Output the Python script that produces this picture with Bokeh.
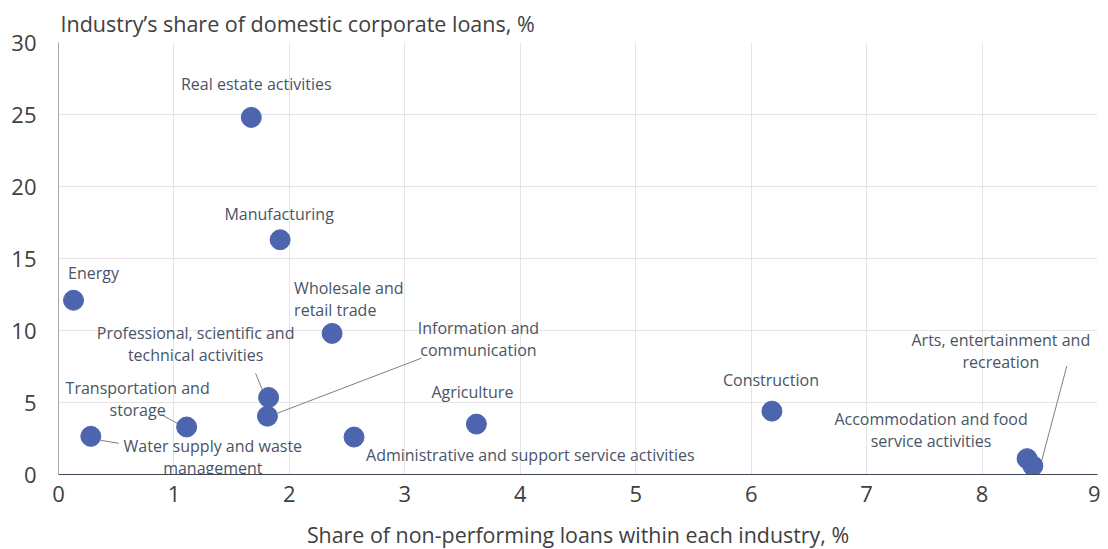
from bokeh.plotting import figure
from bokeh.models import Range1d, ColumnDataSource, FixedTicker, Title
from bokeh.core.properties import value
from bokeh.embed import file_html
from bokeh.resources import INLINE

# ---- data ----
industries = [
    "Real estate activities",
    "Manufacturing",
    "Energy",
    "Wholesale and\nretail trade",
    "Professional, scientific and\ntechnical activities",
    "Information and\ncommunication",
    "Transportation and\nstorage",
    "Water supply and waste\nmanagement",
    "Administrative and support service activities",
    "Agriculture",
    "Construction",
    "Accommodation and food\nservice activities",
    "Arts, entertainment and\nrecreation",
]
npl_share = [1.67, 1.92, 0.13, 2.37, 1.82, 1.81, 1.11, 0.28, 2.56, 3.62, 6.18, 8.39, 8.44]
loan_share = [24.8, 16.3, 12.1, 9.8, 5.35, 4.05, 3.3, 2.65, 2.6, 3.5, 4.4, 1.1, 0.6]
x_ticks = [0, 1, 2, 3, 4, 5, 6, 7, 8, 9]
y_ticks = [0, 5, 10, 15, 20, 25, 30]

# ---- layout / style (pixel offsets of labels relative to their point) ----
label_dx = [5, -1, 20, -38, -73, 211, -49, 122, 12, -4, -1, -96, -32]
label_dy = [-33, -26, -27, -34.5, -53, -77.5, -27.5, 21, 18, -32, -31, -28.5, -114.5]
label_align = ["center", "center", "center", "left", "center", "center", "center",
               "center", "left", "center", "center", "center", "center"]
# leader lines: index of point, start offset, end offset (px)
leaders = [
    (4, (-13, -24), (-6, -7)),
    (5, (10, -3), (154, -58)),
    (6, (-23, -11), (-8, -3)),
    (7, (10, 4), (28, 7)),
    (12, (34, -100), (8, -2)),
]

FRAME_W, FRAME_H = 1039, 432
PX_X = FRAME_W / 9.0
PX_Y = FRAME_H / 30.0

FONT = "Open Sans"
TEXT_COLOR = "#404040"
LABEL_COLOR = "#4a5466"
POINT_COLOR = "#4c65ae"

p = figure(frame_width=FRAME_W, frame_height=FRAME_H, output_backend="svg",
           toolbar_location=None,
           x_range=Range1d(0, 9), y_range=Range1d(0, 30),
           min_border_left=58, min_border_right=3, min_border_top=42, min_border_bottom=0)
p.outline_line_color = None
p.background_fill_color = "white"
p.border_fill_color = "white"

p.title = Title(text="Industry\u2019s share of domestic corporate loans, %",
                text_font=FONT, text_font_size="21.5px", text_font_style="normal",
                text_color=TEXT_COLOR, align="left", offset=2, standoff=9)

for ax in (p.xaxis[0], p.yaxis[0]):
    ax.major_tick_line_color = None
    ax.minor_tick_line_color = None
    ax.major_tick_out = 0
    ax.major_tick_in = 0
    ax.minor_tick_out = 0
    ax.minor_tick_in = 0
    ax.major_label_text_font = FONT
    ax.major_label_text_font_size = "22px"
    ax.major_label_text_color = TEXT_COLOR
    ax.axis_label_text_font = FONT
    ax.axis_label_text_font_size = "21.4px"
    ax.axis_label_text_font_style = "normal"
    ax.axis_label_text_color = TEXT_COLOR

p.xaxis.ticker = FixedTicker(ticks=x_ticks)
p.yaxis.ticker = FixedTicker(ticks=y_ticks)
p.xaxis.axis_label = "Share of non-performing loans within each industry, %"
p.xaxis.major_label_standoff = 11
p.xaxis.axis_label_standoff = 15
p.xaxis.axis_line_color = "#3e4658"
p.xaxis.axis_line_width = 1.2
p.yaxis.major_label_standoff = 22
p.yaxis.axis_line_color = "#a6a6a6"

p.xgrid.grid_line_color = "#e4e4e4"
p.ygrid.grid_line_color = "#e4e4e4"

# leader lines
x0 = [npl_share[i] + s[0] / PX_X for i, s, e in leaders]
y0 = [loan_share[i] - s[1] / PX_Y for i, s, e in leaders]
x1 = [npl_share[i] + e[0] / PX_X for i, s, e in leaders]
y1 = [loan_share[i] - e[1] / PX_Y for i, s, e in leaders]
p.segment(x0=x0, y0=y0, x1=x1, y1=y1, line_color="#808080", line_width=1)

p.scatter(x=npl_share, y=loan_share, size=20, fill_color=POINT_COLOR,
          line_color=POINT_COLOR)

lsrc = ColumnDataSource(dict(
    x=[xv + dx / PX_X for xv, dx in zip(npl_share, label_dx)],
    y=[yv - dy / PX_Y for yv, dy in zip(loan_share, label_dy)],
    text=industries,
    align=label_align,
))
p.text(x="x", y="y", text="text", source=lsrc, text_align="align",
       text_baseline="middle", text_font=value(FONT), text_font_size="16px",
       text_color=LABEL_COLOR, text_line_height=1.0)

open("out.html", "w").write(file_html(p, INLINE))
